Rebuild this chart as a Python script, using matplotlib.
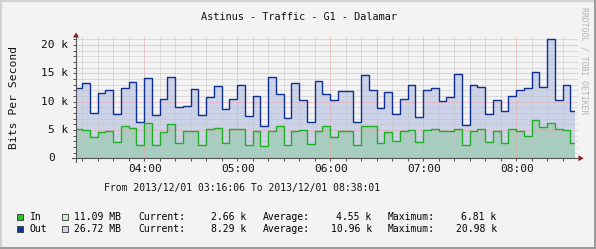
import matplotlib
matplotlib.use('Agg')
import matplotlib.pyplot as plt
from matplotlib.patches import Rectangle, Polygon
from matplotlib.lines import Line2D

W, H, DPI = 596, 249, 100

# ---------------- data ----------------
title = "Astinus - Traffic - G1 - Dalamar"
ylabel = "Bits Per Second"
watermark = "RRDTOOL / TOBI OETIKER"
period_text = "From 2013/12/01 03:16:06 To 2013/12/01 08:38:01"

t_start = 3 * 60 + 16 + 6 / 60      # minutes of day, 03:16:06
t_end = 8 * 60 + 38 + 1 / 60        # 08:38:01
first_boundary = 3 * 60 + 20        # 03:20
step_min = 5

out_k = [12.35, 13.2, 8.0, 11.6, 12.0, 7.8, 12.35, 13.5, 6.35, 14.2, 7.6, 10.4, 14.4,
         9.05, 9.2, 12.2, 7.65, 10.8, 12.7, 8.7, 10.5, 12.9, 7.5, 11.05, 5.75, 14.4,
         11.4, 7.1, 13.2, 10.2, 6.4, 13.6, 11.3, 10.25, 11.8, 11.8, 6.35, 14.65, 12.0,
         8.9, 11.75, 7.75, 10.5, 12.9, 7.3, 12.0, 12.35, 10.05, 10.8, 14.8, 5.9, 12.9,
         12.6, 7.75, 10.2, 8.3, 11.05, 12.0, 12.35, 15.2, 12.5, 20.98, 10.3, 13.0, 8.29]
in_k = [5.2, 5.05, 3.7, 4.7, 4.9, 2.95, 5.65, 5.4, 2.35, 6.2, 2.35, 4.7, 6.1,
        2.65, 4.75, 4.75, 2.35, 5.2, 5.4, 2.65, 5.2, 5.1, 2.35, 4.9, 2.2, 4.9,
        5.65, 2.35, 4.9, 5.05, 2.5, 4.9, 5.65, 3.7, 4.9, 4.9, 2.35, 5.65, 5.65,
        2.7, 4.7, 3.0, 4.75, 5.05, 2.9, 5.05, 5.2, 4.75, 4.9, 5.2, 2.35, 4.9,
        5.2, 2.8, 4.9, 2.7, 5.2, 4.9, 3.95, 6.81, 5.55, 6.3, 5.1, 5.0, 2.66]

yticks = [0, 5, 10, 15, 20]
ytick_labels = ["0", "5 k", "10 k", "15 k", "20 k"]
xtick_hours = [4, 5, 6, 7, 8]
xtick_labels = ["04:00", "05:00", "06:00", "07:00", "08:00"]

legend_names = ["In", "Out"]
legend_totals = ["11.09 MB", "26.72 MB"]
legend_current = ["2.66 k", "8.29 k"]
legend_average = ["4.55 k", "10.96 k"]
legend_maximum = ["6.81 k", "20.98 k"]

# ---------------- style ----------------
BG = "#F3F3F3"
OUT_FILL = "#CCD3E9"
IN_FILL = "#A6CDBF"
OUT_LINE = "#0C2F91"
IN_LINE = "#1FAF24"
OUT_SWATCH = "#0B3697"
IN_SWATCH = "#25C625"
OUT_LIGHT = "#CDD2E8"
IN_LIGHT = "#CDEFCD"
MINOR_GRID = "#C4C4C4"
MAJOR_GRID = "#E6A3A3"
AXIS_C = "#555555"
ARROW_C = "#960F0F"
MONO = "DejaVu Sans Mono"

plt.rcParams['font.family'] = [MONO, 'DejaVu Sans']

fig = plt.figure(figsize=(W / DPI, H / DPI), dpi=DPI, facecolor=BG)


def P(x, y):
    return (x / W, 1 - y / H)


# plot area in pixel coords
X0, X1 = 76, 575
Y0 = 158.3          # pixel row of value 0
PX_PER_K = 5.667
YTOP = 37.3
ymax = (Y0 - YTOP) / PX_PER_K

ax = fig.add_axes([X0 / W, 1 - Y0 / H, (X1 - X0) / W, (Y0 - YTOP) / H])
ax.set_facecolor('none')
ax.set_xlim(t_start, t_end)
ax.set_ylim(0, ymax)
for s in ax.spines.values():
    s.set_visible(False)

edges = [t_start] + [first_boundary + step_min * i for i in range(len(out_k) - 1)] + [t_end]

ax.stairs(out_k, edges, fill=True, color=OUT_FILL, zorder=1, linewidth=0)
ax.stairs(in_k, edges, fill=True, color=IN_FILL, zorder=2, linewidth=0)

# grid
minor_y = [v for v in range(1, 22) if v % 5 != 0]
major_y = [v for v in yticks if v > 0]
minor_x = [m for m in range(3 * 60 + 20, int(t_end) + 1, 10) if m % 60 != 0]
major_x = [h * 60 for h in xtick_hours]
dot = (0, (1, 1))
ax.hlines(minor_y, t_start, t_end + 2, colors=MINOR_GRID, linestyles=dot, linewidth=0.72, zorder=3, clip_on=False)
ax.vlines(minor_x, 0, ymax, colors=MINOR_GRID, linestyles=dot, linewidth=0.72, zorder=3)
ax.hlines(major_y, t_start, t_end + 2, colors=MAJOR_GRID, linestyles=dot, linewidth=0.72, zorder=3, clip_on=False)
ax.vlines(major_x, 0, ymax, colors=MAJOR_GRID, linestyles=dot, linewidth=0.72, zorder=3)

ax.stairs(out_k, edges, baseline=None, color=OUT_LINE, linewidth=1.0, zorder=5)
ax.stairs(in_k, edges, baseline=None, color=IN_LINE, linewidth=1.0, zorder=6)

# ticks
ax.set_yticks(list(range(0, 22)))
ax.set_xticks(minor_x + major_x)
ax.tick_params(axis='both', direction='out', length=2.2, width=0.72, color=AXIS_C,
               labelleft=False, labelbottom=False)

# axis lines and arrows
fig.add_artist(Line2D([P(72, Y0)[0], P(579, Y0)[0]], [P(72, Y0)[1]] * 2,
                      transform=fig.transFigure, color=AXIS_C, lw=0.8))
fig.add_artist(Line2D([P(X0, 0)[0]] * 2, [P(0, 161.5)[1], P(0, 36)[1]],
                      transform=fig.transFigure, color=AXIS_C, lw=0.8))
fig.add_artist(Polygon([P(X0, 32.5), P(X0 - 3, 37.5), P(X0 + 3, 37.5)], closed=True,
                       transform=fig.transFigure, color=ARROW_C, lw=0))
fig.add_artist(Polygon([P(583.5, Y0), P(578.5, Y0 - 3), P(578.5, Y0 + 3)], closed=True,
                       transform=fig.transFigure, color=ARROW_C, lw=0))

# y tick labels (monospace, right aligned incl. unit column)
for v, lab in zip(yticks, ytick_labels):
    py = Y0 - v * PX_PER_K
    right = 68.3 if " " in lab else 55.0
    fig.text(*P(right, py), lab, ha='right', va='center', fontsize=8.0, family=MONO, color='#111111')

# x tick labels
for hr, lab in zip(xtick_hours, xtick_labels):
    px = X0 + (hr * 60 - t_start) * (X1 - X0) / (t_end - t_start)
    fig.text(*P(px + 1, 168.5), lab, ha='center', va='center', fontsize=8.0, family=MONO, color='#111111')

# title, axis label, watermark, period
fig.text(*P(299, 16.5), title, ha='center', va='center', fontsize=7.4, family=MONO, color='#111111')
fig.text(*P(14.5, 97.5), ylabel, ha='center', va='center', rotation=90, fontsize=8.2,
         family=MONO, color='#111111')
fig.text(*P(584, 7), watermark, ha='center', va='top', rotation=270, fontsize=5.9,
         family=MONO, color='#B4B4B4')
fig.text(*P(104, 188.5), period_text, ha='left', va='center', fontsize=7.0, family=MONO, color='#111111')

# legend
rows_y = [216.5, 228.8]
swatch_c = [IN_SWATCH, OUT_SWATCH]
light_c = [IN_LIGHT, OUT_LIGHT]
for i in range(2):
    yc = rows_y[i]
    for x, c in ((17, swatch_c[i]), (62, light_c[i])):
        x0, y0 = P(x, yc + 3)
        fig.add_artist(Rectangle((x0, y0), 6 / W, 6 / H, transform=fig.transFigure,
                                 facecolor=c, edgecolor='#333333', lw=0.6))
    fs = 7.0
    fig.text(*P(30, yc), legend_names[i], ha='left', va='center', fontsize=fs, family=MONO)
    fig.text(*P(74, yc), legend_totals[i], ha='left', va='center', fontsize=fs, family=MONO)
    fig.text(*P(138.3, yc), "Current:", ha='left', va='center', fontsize=fs, family=MONO)
    fig.text(*P(246.7, yc), legend_current[i], ha='right', va='center', fontsize=fs, family=MONO)
    fig.text(*P(263.3, yc), "Average:", ha='left', va='center', fontsize=fs, family=MONO)
    fig.text(*P(371.7, yc), legend_average[i], ha='right', va='center', fontsize=fs, family=MONO)
    fig.text(*P(387.3, yc), "Maximum:", ha='left', va='center', fontsize=fs, family=MONO)
    fig.text(*P(496.7, yc), legend_maximum[i], ha='right', va='center', fontsize=fs, family=MONO)

# 3D-like border
fig.add_artist(Line2D([0, 1], [1 - 1 / H] * 2, transform=fig.transFigure, color='#D2D2D2', lw=1.5))
fig.add_artist(Line2D([1 / W] * 2, [0, 1], transform=fig.transFigure, color='#D2D2D2', lw=1.5))
fig.add_artist(Line2D([0, 1], [1.5 / H] * 2, transform=fig.transFigure, color='#9C9C9C', lw=1.5))
fig.add_artist(Line2D([1 - 1.5 / W] * 2, [0, 1], transform=fig.transFigure, color='#9C9C9C', lw=1.5))

fig.savefig("out.png", dpi=DPI, facecolor=BG)
